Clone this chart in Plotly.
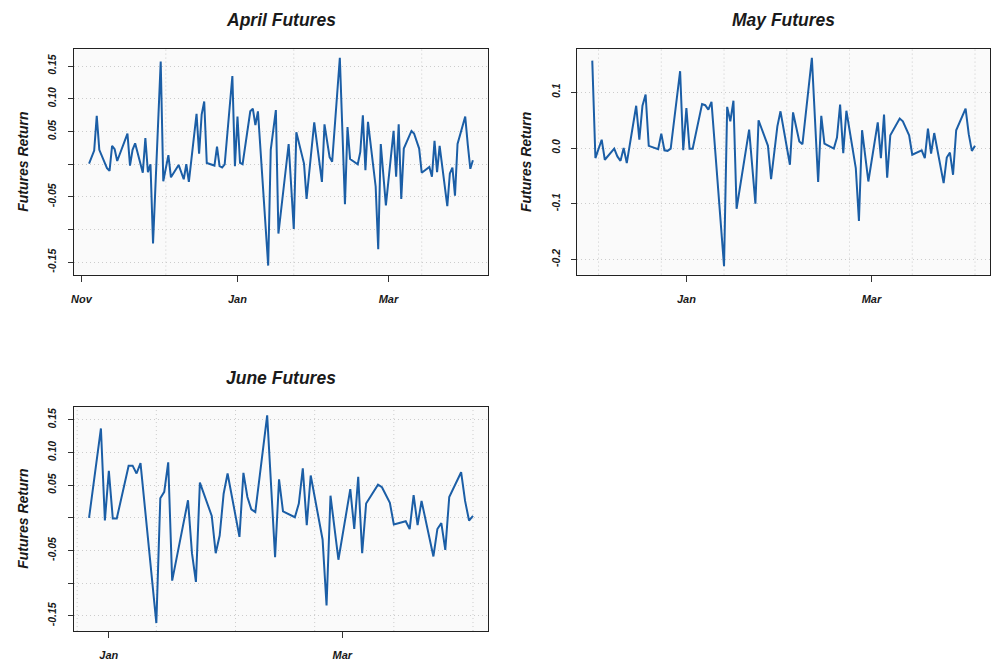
import plotly.graph_objects as go

# ---------------- data ----------------
april_dates = [
    "2013-11-04", "2013-11-06", "2013-11-07", "2013-11-08", "2013-11-11", "2013-11-12",
    "2013-11-13", "2013-11-14", "2013-11-15", "2013-11-19", "2013-11-20", "2013-11-21",
    "2013-11-22", "2013-11-25", "2013-11-26", "2013-11-27", "2013-11-28", "2013-11-29",
    "2013-12-02", "2013-12-03", "2013-12-05", "2013-12-06", "2013-12-09", "2013-12-11",
    "2013-12-12", "2013-12-13", "2013-12-16", "2013-12-17", "2013-12-18", "2013-12-19",
    "2013-12-20", "2013-12-23", "2013-12-24", "2013-12-25", "2013-12-26", "2013-12-27",
    "2013-12-30", "2013-12-31", "2014-01-01", "2014-01-02", "2014-01-03", "2014-01-06",
    "2014-01-07", "2014-01-08", "2014-01-09", "2014-01-13", "2014-01-14", "2014-01-16",
    "2014-01-17", "2014-01-21", "2014-01-23", "2014-01-24", "2014-01-27", "2014-01-28",
    "2014-01-31", "2014-02-03", "2014-02-04", "2014-02-06", "2014-02-07", "2014-02-10",
    "2014-02-12", "2014-02-13", "2014-02-14", "2014-02-17", "2014-02-18", "2014-02-19",
    "2014-02-20", "2014-02-21", "2014-02-24", "2014-02-25", "2014-02-26", "2014-02-28",
    "2014-03-03", "2014-03-04", "2014-03-05", "2014-03-06", "2014-03-07", "2014-03-10",
    "2014-03-11", "2014-03-13", "2014-03-14", "2014-03-17", "2014-03-18", "2014-03-19",
    "2014-03-20", "2014-03-21", "2014-03-24", "2014-03-25", "2014-03-26", "2014-03-27",
    "2014-03-28", "2014-03-31", "2014-04-01", "2014-04-02", "2014-04-03",
]
april_returns = [
    0.001, 0.021, 0.074, 0.022, -0.006, -0.010,
    0.028, 0.023, 0.005, 0.047, -0.002, 0.022,
    0.032, -0.013, 0.040, -0.012, 0.000, -0.121,
    0.157, -0.026, 0.014, -0.020, -0.001, -0.023,
    0.000, -0.027, 0.077, 0.016, 0.076, 0.096,
    0.002, -0.002, 0.027, -0.003, -0.005, 0.000,
    0.135, -0.003, 0.073, 0.002, 0.000, 0.081,
    0.085, 0.060, 0.081, -0.155, 0.022, 0.083,
    -0.106, 0.031, -0.099, 0.049, 0.001, -0.053,
    0.064, -0.027, 0.061, 0.011, 0.004, 0.163,
    -0.061, 0.057, 0.008, 0.000, 0.019, 0.075,
    -0.009, 0.065, -0.034, -0.130, 0.031, -0.063,
    0.051, -0.019, 0.061, -0.053, 0.024, 0.051,
    0.047, 0.024, -0.013, -0.004, -0.019, 0.036,
    -0.012, 0.028, -0.064, -0.014, -0.005, -0.048,
    0.031, 0.073, 0.030, -0.007, 0.006,
]

may_dates = [
    "2013-12-02", "2013-12-03", "2013-12-05", "2013-12-06", "2013-12-09", "2013-12-10",
    "2013-12-11", "2013-12-12", "2013-12-13", "2013-12-16", "2013-12-17", "2013-12-18",
    "2013-12-19", "2013-12-20", "2013-12-23", "2013-12-24", "2013-12-25", "2013-12-26",
    "2013-12-27", "2013-12-30", "2013-12-31", "2014-01-01", "2014-01-02", "2014-01-03",
    "2014-01-06", "2014-01-07", "2014-01-08", "2014-01-09", "2014-01-13", "2014-01-14",
    "2014-01-15", "2014-01-16", "2014-01-17", "2014-01-21", "2014-01-23", "2014-01-24",
    "2014-01-27", "2014-01-28", "2014-01-30", "2014-01-31", "2014-02-03", "2014-02-04",
    "2014-02-06", "2014-02-07", "2014-02-10", "2014-02-12", "2014-02-13", "2014-02-14",
    "2014-02-17", "2014-02-18", "2014-02-19", "2014-02-20", "2014-02-21", "2014-02-24",
    "2014-02-25", "2014-02-26", "2014-02-28", "2014-03-03", "2014-03-04", "2014-03-05",
    "2014-03-06", "2014-03-07", "2014-03-10", "2014-03-11", "2014-03-13", "2014-03-14",
    "2014-03-17", "2014-03-18", "2014-03-19", "2014-03-20", "2014-03-21", "2014-03-24",
    "2014-03-25", "2014-03-26", "2014-03-27", "2014-03-28", "2014-03-31", "2014-04-01",
    "2014-04-02", "2014-04-03",
]
may_returns = [
    0.157, -0.018, 0.015, -0.021, -0.001, -0.015,
    -0.023, 0.000, -0.027, 0.076, 0.015, 0.076,
    0.096, 0.004, -0.002, 0.026, -0.004, -0.005,
    -0.001, 0.138, -0.004, 0.072, -0.001, -0.001,
    0.079, 0.077, 0.069, 0.083, -0.212, 0.074,
    0.048, 0.085, -0.109, 0.033, -0.100, 0.050,
    0.004, -0.056, 0.039, 0.066, -0.030, 0.064,
    0.012, 0.007, 0.162, -0.061, 0.058, 0.008,
    -0.001, 0.019, 0.078, -0.009, 0.067, -0.036,
    -0.131, 0.032, -0.060, 0.046, -0.018, 0.060,
    -0.053, 0.023, 0.053, 0.048, 0.023, -0.012,
    -0.004, -0.018, 0.035, -0.010, 0.027, -0.063,
    -0.017, -0.008, -0.048, 0.032, 0.071, 0.025,
    -0.005, 0.004,
]

june_dates = [
    "2013-12-27", "2013-12-30", "2013-12-31", "2014-01-01", "2014-01-02", "2014-01-03",
    "2014-01-06", "2014-01-07", "2014-01-08", "2014-01-09", "2014-01-13", "2014-01-14",
    "2014-01-15", "2014-01-16", "2014-01-17", "2014-01-21", "2014-01-22", "2014-01-23",
    "2014-01-24", "2014-01-27", "2014-01-28", "2014-01-29", "2014-01-30", "2014-01-31",
    "2014-02-03", "2014-02-04", "2014-02-05", "2014-02-06", "2014-02-07", "2014-02-10",
    "2014-02-12", "2014-02-13", "2014-02-14", "2014-02-17", "2014-02-18", "2014-02-19",
    "2014-02-20", "2014-02-21", "2014-02-24", "2014-02-25", "2014-02-26", "2014-02-28",
    "2014-03-03", "2014-03-04", "2014-03-05", "2014-03-06", "2014-03-07", "2014-03-10",
    "2014-03-11", "2014-03-13", "2014-03-14", "2014-03-17", "2014-03-18", "2014-03-19",
    "2014-03-20", "2014-03-21", "2014-03-24", "2014-03-25", "2014-03-26", "2014-03-27",
    "2014-03-28", "2014-03-31", "2014-04-01", "2014-04-02", "2014-04-03",
]
june_returns = [
    0.000, 0.137, -0.004, 0.072, -0.001, -0.001,
    0.080, 0.080, 0.068, 0.084, -0.161, 0.030,
    0.040, 0.085, -0.096, 0.027, -0.054, -0.098,
    0.054, 0.003, -0.054, -0.027, 0.037, 0.068,
    -0.029, 0.069, 0.032, 0.013, 0.009, 0.157,
    -0.060, 0.059, 0.010, 0.001, 0.022, 0.076,
    -0.011, 0.065, -0.033, -0.134, 0.034, -0.064,
    0.044, -0.017, 0.063, -0.054, 0.022, 0.051,
    0.047, 0.023, -0.010, -0.005, -0.017, 0.035,
    -0.011, 0.026, -0.059, -0.017, -0.008, -0.049,
    0.032, 0.070, 0.026, -0.004, 0.003,
]

titles = ["April Futures", "May Futures", "June Futures"]
y_label = "Futures Return"

# axis ticks
april_xticks = ["2013-11-01", "2014-01-01", "2014-03-01"]
april_xtext = ["Nov", "Jan", "Mar"]
may_xticks = ["2014-01-01", "2014-03-01"]
may_xtext = ["Jan", "Mar"]
june_xticks = ["2014-01-01", "2014-03-01"]
june_xtext = ["Jan", "Mar"]

april_yticks = [-0.15, -0.10, -0.05, 0.0, 0.05, 0.10, 0.15]
april_ytext = ["-0.15", "", "-0.05", "", "0.05", "0.10", "0.15"]
may_yticks = [-0.2, -0.1, 0.0, 0.1]
may_ytext = ["-0.2", "-0.1", "0.0", "0.1"]
june_yticks = [-0.15, -0.10, -0.05, 0.0, 0.05, 0.10, 0.15]
june_ytext = ["-0.15", "", "-0.05", "", "0.05", "0.10", "0.15"]

# vertical dotted grid positions
april_vgrid = ["2013-12-04", "2014-01-23", "2014-03-14"]
may_vgrid = ["2013-12-04", "2013-12-24", "2014-01-13", "2014-02-02",
             "2014-02-22", "2014-03-14", "2014-04-03"]
june_vgrid = ["2013-12-24", "2014-01-13", "2014-02-02", "2014-02-22",
              "2014-03-14", "2014-04-03"]

# ---------------- figure ----------------
W, H = 992, 661
LINE = "#1B5EA6"
FONT = "Liberation Sans, Arial, Helvetica, sans-serif"
TXT = "#1a1a1a"
GRID = "#CCCCCC"
DOTS = "1px,3px"

# panel boxes in pixels: (left, right, top, bottom)
boxes = [(71, 487, 49.3, 275.0), (576.3, 991.3, 49.3, 275.0), (71, 487.3, 407.3, 632.0)]
xranges = [["2013-10-29 00:00", "2014-04-08 22:00"],
           ["2013-11-27 03:00", "2014-04-07 21:00"],
           ["2013-12-23 03:00", "2014-04-06 21:00"]]
yranges = [[-0.1688, 0.176], [-0.2272, 0.1775], [-0.1732, 0.1703]]

series = [(april_dates, april_returns), (may_dates, may_returns), (june_dates, june_returns)]
xt = [(april_xticks, april_xtext), (may_xticks, may_xtext), (june_xticks, june_xtext)]
yt = [(april_yticks, april_ytext), (may_yticks, may_ytext), (june_yticks, june_ytext)]
vg = [april_vgrid, may_vgrid, june_vgrid]

fig = go.Figure()
layout = dict(
    width=W, height=H,
    margin=dict(l=0, r=0, t=0, b=0),
    paper_bgcolor="white",
    plot_bgcolor="#FAFAFA",
    showlegend=False,
    font=dict(family=FONT, color=TXT),
)
shapes = []
annotations = []

for i, ((d, v), (xv, xtx), (yv, ytx), grid, box) in enumerate(zip(series, xt, yt, vg, boxes)):
    n = "" if i == 0 else str(i + 1)
    xa, ya = "x" + n, "y" + n
    fig.add_trace(go.Scatter(x=d, y=v, mode="lines", xaxis=xa, yaxis=ya,
                             line=dict(color=LINE, width=2), hoverinfo="skip"))
    l, r, t, b = box
    layout["xaxis" + n] = dict(
        domain=[l / W, r / W], anchor=ya, type="date", range=xranges[i],
        tickmode="array", tickvals=xv, ticktext=xtx,
        ticks="outside", ticklen=6, tickwidth=1, tickcolor="#333",
        showgrid=False, zeroline=False,
        showline=True, mirror=True, linecolor="#222", linewidth=1.3,
        tickfont=dict(family=FONT, size=11, weight="bold", style="italic", color=TXT),
        ticklabelstandoff=8,
    )
    layout["yaxis" + n] = dict(
        domain=[1 - b / H, 1 - t / H], anchor=xa, range=yranges[i],
        tickmode="array", tickvals=yv, ticktext=ytx, tickangle=-90,
        ticks="outside", ticklen=5, tickwidth=1, tickcolor="#333",
        showgrid=True, gridcolor=GRID, griddash=DOTS, gridwidth=1,
        zeroline=False,
        showline=True, mirror=True, linecolor="#222", linewidth=1.3,
        tickfont=dict(family=FONT, size=10.5, weight="bold", style="italic", color=TXT),
        ticklabelstandoff=7,
    )
    for g in grid:
        shapes.append(dict(type="line", xref=xa, yref=ya + " domain", x0=g, x1=g, y0=0, y1=1,
                           line=dict(color=GRID, width=1, dash=DOTS), layer="below"))
    # panel title
    annotations.append(dict(text=titles[i], xref="paper", yref="paper",
                            x=(l + r) / 2 / W, y=1 - (t - 29) / H,
                            xanchor="center", yanchor="middle", showarrow=False,
                            font=dict(family=FONT, size=17.5, weight="bold", style="italic", color=TXT)))
    # y axis label
    annotations.append(dict(text=y_label, xref="paper", yref="paper",
                            x=(l - 51) / W, y=1 - (t + b) / 2 / H,
                            xanchor="center", yanchor="middle", textangle=-90, showarrow=False,
                            font=dict(family=FONT, size=14, weight="bold", style="italic", color=TXT)))

layout["shapes"] = shapes
layout["annotations"] = annotations
fig.update_layout(**layout)
fig.write_html("out.html", config={"displayModeBar": False},
               post_script="document.body.style.margin='0';document.body.style.overflow='hidden';")
